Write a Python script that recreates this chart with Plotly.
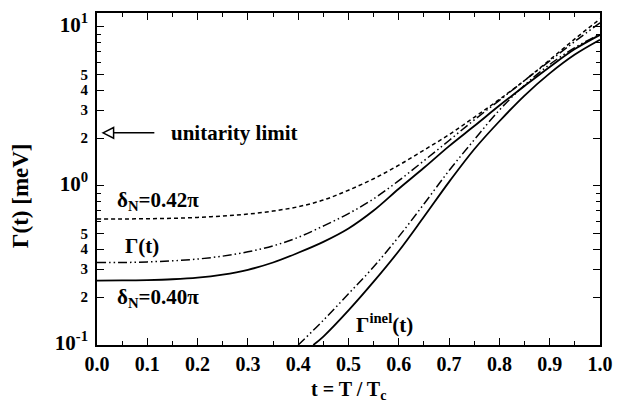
import plotly.graph_objects as go

# ---- data ----
t_grid = [0.0, 0.05, 0.1, 0.15, 0.2, 0.25, 0.3, 0.35, 0.4, 0.45, 0.5,
          0.55, 0.6, 0.65, 0.7, 0.75, 0.8, 0.85, 0.9, 0.95, 1.0]
gamma_d042 = [0.62, 0.62, 0.622, 0.626, 0.634, 0.647, 0.665, 0.695, 0.74, 0.815, 0.94,
              1.11, 1.35, 1.68, 2.1, 2.7, 3.5, 4.6, 6.2, 8.4, 11.2]
gamma_total = [0.33, 0.33, 0.333, 0.338, 0.347, 0.362, 0.385, 0.42, 0.475, 0.56, 0.67,
               0.83, 1.08, 1.44, 1.93, 2.6, 3.45, 4.6, 6.1, 8.1, 10.6]
gamma_d040 = [0.254, 0.2545, 0.256, 0.259, 0.265, 0.277, 0.297, 0.33, 0.38, 0.445, 0.54,
              0.70, 0.96, 1.3, 1.78, 2.38, 3.2, 4.25, 5.6, 7.25, 8.9]
t_inel_a = [0.40, 0.45, 0.5, 0.55, 0.6, 0.65, 0.7, 0.75, 0.8, 0.85, 0.9, 0.95, 1.0]
gamma_inel_a = [0.1, 0.143, 0.21, 0.31, 0.48, 0.77, 1.25, 1.95, 3.0, 4.3, 5.8, 7.4, 9.0]
t_inel_b = [0.43, 0.45, 0.5, 0.55, 0.6, 0.65, 0.7, 0.75, 0.8, 0.85, 0.9, 0.95, 1.0]
gamma_inel_b = [0.1, 0.113, 0.165, 0.25, 0.39, 0.64, 1.06, 1.7, 2.55, 3.7, 5.1, 6.7, 8.3]

x_ticks = [0.0, 0.1, 0.2, 0.3, 0.4, 0.5, 0.6, 0.7, 0.8, 0.9, 1.0]
x_ticktext = ["0.0", "0.1", "0.2", "0.3", "0.4", "0.5", "0.6", "0.7", "0.8", "0.9", "1.0"]
x_minor = [0.05, 0.15, 0.25, 0.35, 0.45, 0.55, 0.65, 0.75, 0.85, 0.95]
y_ticks = [0.1, 0.2, 0.3, 0.4, 0.5, 1, 2, 3, 4, 5, 10]
y_ticktext = ["<span style='font-size:21px'>10<sup>-1</sup></span>", "2", "3", "4", "5",
              "<span style='font-size:21px'>10<sup>0</sup></span>", "2", "3", "4", "5",
              "<span style='font-size:21px'>10<sup>1</sup></span>"]
y_minor = [0.6, 0.7, 0.8, 0.9, 6, 7, 8, 9]

FONT = "Liberation Serif"
dashdotdot = "9px,3px,1.5px,3px,1.5px,3px"

fig = go.Figure()
fig.add_trace(go.Scatter(x=t_grid, y=gamma_d042, mode="lines", line_shape="spline",
                         line=dict(color="black", width=1.5, dash="4px,3px")))
fig.add_trace(go.Scatter(x=t_grid, y=gamma_total, mode="lines", line_shape="spline",
                         line=dict(color="black", width=1.5, dash=dashdotdot)))
fig.add_trace(go.Scatter(x=t_grid, y=gamma_d040, mode="lines", line_shape="spline",
                         line=dict(color="black", width=1.8)))
fig.add_trace(go.Scatter(x=t_inel_a, y=gamma_inel_a, mode="lines", line_shape="spline",
                         line=dict(color="black", width=1.5, dash=dashdotdot)))
fig.add_trace(go.Scatter(x=t_inel_b, y=gamma_inel_b, mode="lines", line_shape="spline",
                         line=dict(color="black", width=1.8)))

fig.update_layout(
    width=623, height=402,
    margin=dict(l=97, r=16, t=10, b=57),
    paper_bgcolor="white", plot_bgcolor="white",
    showlegend=False,
    font=dict(family=FONT, color="black", size=20, weight="bold"),
)
fig.update_xaxes(
    range=[0, 1], tickvals=x_ticks, ticktext=x_ticktext,
    ticks="inside", ticklen=7, tickwidth=1.2, tickcolor="black",
    showline=True, linecolor="black", linewidth=2, mirror="ticks",
    showgrid=False, zeroline=False,
    tickfont=dict(family=FONT, size=20, weight="bold"),
    minor=dict(tickvals=x_minor, ticks="inside", ticklen=4, tickcolor="black", tickwidth=1),
)
fig.update_yaxes(
    type="log", range=[-1, 1.087], tickvals=y_ticks, ticktext=y_ticktext,
    ticks="inside", ticklen=7, tickwidth=1.2, tickcolor="black",
    showline=True, linecolor="black", linewidth=2, mirror="ticks",
    showgrid=False, zeroline=False, ticklabelstandoff=4,
    tickfont=dict(family=FONT, size=15, weight="bold"),
    minor=dict(tickvals=y_minor, ticks="inside", ticklen=4, tickcolor="black", tickwidth=1),
)

ann = [
    dict(text="Γ(t) [meV]", x=-0.152, y=0.45, textangle=-90, font=dict(size=23)),
    dict(text="t = T / T<sub>c</sub>", x=0.5, y=-0.137, font=dict(size=20)),
    dict(text="unitarity limit", x=0.143, y=0.639, xanchor="left", font=dict(size=21)),
    dict(text="δ<sub>N</sub>=0.42π", x=0.035, y=0.433, xanchor="left", font=dict(size=21)),
    dict(text="Γ(t)", x=0.051, y=0.2985, xanchor="left", font=dict(size=21)),
    dict(text="δ<sub>N</sub>=0.40π", x=0.035, y=0.143, xanchor="left", font=dict(size=21)),
    dict(text="Γ<sup>inel</sup>(t)", x=0.51, y=0.066, xanchor="left", font=dict(size=21)),
]
for a in ann:
    a.setdefault("xanchor", "center")
    fig.add_annotation(xref="paper", yref="paper", showarrow=False, yanchor="middle", **a)

# open-head arrow pointing to the axis (unitarity limit)
ya = 0.639
fig.add_shape(type="line", xref="paper", yref="paper", x0=0.031, x1=0.114, y0=ya, y1=ya,
              line=dict(color="black", width=1.5))
fig.add_shape(type="path", xref="paper", yref="paper",
              path=f"M 0.012 {ya} L 0.033 {ya+0.016} L 0.033 {ya-0.016} Z",
              line=dict(color="black", width=1.5), fillcolor="white")

fig.write_html("out.html")
